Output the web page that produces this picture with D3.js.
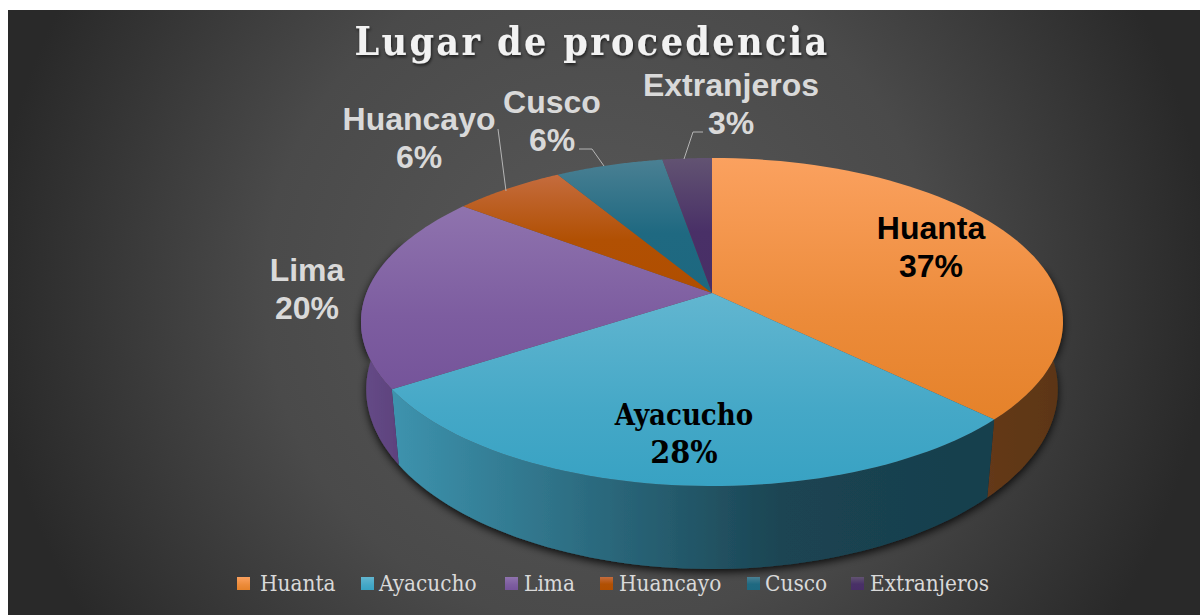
<!DOCTYPE html>
<html><head><meta charset="utf-8">
<style>html,body{margin:0;padding:0;background:#fff}svg{display:block}</style>
<script src="https://cdn.jsdelivr.net/npm/d3@7/dist/d3.min.js"></script>
</head><body><svg id="c" width="1202" height="615"></svg>
<script>
const title = "Lugar de procedencia";
const categories = ["Huanta","Ayacucho","Lima","Huancayo","Cusco","Extranjeros"];
const values = [37.3,28.49,19.52,6.1,5.89,2.7];
const topLight = ["#fba15f","#62b6d0","#8f73ae","#c56c3e","#4a8093","#625372"];
const topDark  = ["#e5822a","#38a2c3","#75549a","#b04e00","#1d6880","#482e66"];
const wallLight = ["#64391a","#3d93ae","#664a88","#8a3f00","#1d5a6e","#3c2656"];
const wallMid   = ["#5f3714","#1b4452","#5f447f","#823a00","#195062","#372350"];
const wallDark  = ["#5b3512","#173f4d","#5a3f7c","#7a3500","#174a5a","#33204a"];
const labelInk = ["#000","#000","#d9d9d9","#d9d9d9","#d9d9d9","#d9d9d9"];
const labelSerif = [false,true,false,false,false,false];
const labelPos = [[931,229],[684,415],[307,271],[419,120],[552,103],[731,86]];
const legendX = [237,361,505,600,747,851];
const legendTextX = [260,379,524,619,765,870];
const svg=d3.select("#c");
const defs=svg.append("defs");
const bg=defs.append("radialGradient").attr("id","bg").attr("gradientUnits","userSpaceOnUse")
  .attr("cx",600).attr("cy",290).attr("r",610);
bg.append("stop").attr("offset",0).attr("stop-color","#585858");
bg.append("stop").attr("offset",.55).attr("stop-color","#4a4a4a");
bg.append("stop").attr("offset",1).attr("stop-color","#292929");
const sh=defs.append("filter").attr("id","sh").attr("x","-10%").attr("y","-10%").attr("width","120%").attr("height","130%");
sh.append("feDropShadow").attr("dx",0).attr("dy",3).attr("stdDeviation",4.5).attr("flood-color","#000").attr("flood-opacity",.85);
const ts=defs.append("filter").attr("id","ts").attr("x","-5%").attr("y","-20%").attr("width","110%").attr("height","140%");
ts.append("feDropShadow").attr("dx",1).attr("dy",2).attr("stdDeviation",1.5).attr("flood-color","#000").attr("flood-opacity",.6);
categories.forEach((c,i)=>{
  const g=defs.append("linearGradient").attr("id","t"+i).attr("x1",0).attr("y1",0).attr("x2",0).attr("y2",1);
  g.append("stop").attr("offset",0).attr("stop-color",topLight[i]);
  g.append("stop").attr("offset",i>=3?.55:.6).attr("stop-color",d3.interpolateRgb(topLight[i],topDark[i])(i>=3?.95:.7));
  g.append("stop").attr("offset",1).attr("stop-color",topDark[i]);
  const w=defs.append("linearGradient").attr("id","w"+i).attr("x1",0).attr("y1",0).attr("x2",1).attr("y2",0);
  w.append("stop").attr("offset",0).attr("stop-color",wallLight[i]);
  w.append("stop").attr("offset",.65).attr("stop-color",wallMid[i]);
  w.append("stop").attr("offset",1).attr("stop-color",wallDark[i]);
});
svg.append("rect").attr("x",8).attr("y",10).attr("width",1192).attr("height",605).attr("fill","url(#bg)");

// perspective projection of the pie disc
const cx=712, ay=293, A=345.5, B=158.9, k=0.1768, D=68.3;
const rimTop=a=>{const u=Math.sin(a),v=-Math.cos(a),d=1-k*v;return [cx+A*u/d, ay+B*v/d];};
const rimBot=a=>{const p=rimTop(a),v=-Math.cos(a);return [cx+(p[0]-cx)*(0.988-0.018*v), p[1]+D/(1-k*v)];};
const arcs=d3.pie().sort(null)(values);
const steps=(a0,a1)=>d3.range(0,61).map(i=>a0+(a1-a0)*i/60);
const line=d3.line();
const frontA=80*Math.PI/180, frontB=290*Math.PI/180;
const walls=svg.append("g").attr("filter","url(#sh)");
arcs.forEach((d,i)=>{
  const a0=Math.max(d.startAngle,frontA), a1=Math.min(d.endAngle,frontB);
  if(a1<=a0) return;
  const s=steps(a0,a1);
  walls.append("path").attr("d",line(s.map(rimTop).concat(s.slice().reverse().map(rimBot)))+"Z")
    .attr("fill",`url(#w${i})`);
});
const tops=svg.append("g");
arcs.forEach((d,i)=>{const s=steps(d.startAngle,d.endAngle);
  tops.append("path").attr("d",line([[cx,ay]].concat(s.map(rimTop)))+"Z").attr("fill",`url(#t${i})`);
});
// leader lines
const leaders=[[[506,191],[498,129]],[[604,166],[592,149],[579,149]],[[684,159],[693,132],[703,132]]];
svg.append("g").selectAll("path").data(leaders).join("path").attr("d",d=>line(d)).attr("fill","none").attr("stroke","#b5b5b5").attr("stroke-width",1);
// labels
const fmt=d3.format(".0f");
const sans="'Liberation Sans',Arial,sans-serif", serif="'DejaVu Serif Condensed','DejaVu Serif',serif";
const lab=svg.append("g").attr("text-anchor","middle").attr("font-weight","bold");
categories.forEach((c,i)=>{
  const [x,y]=labelPos[i];
  const t=lab.append("text").attr("fill",labelInk[i]).attr("font-size",labelSerif[i]?"29px":"32px")
    .attr("font-family",labelSerif[i]?serif:sans);
  t.append("tspan").attr("x",x).attr("y",y+10).text(c);
  t.append("tspan").attr("x",x).attr("y",y+48).attr("font-size",labelSerif[i]?"32px":"32px").text(fmt(values[i])+"%");
});
svg.append("text").attr("x",592).attr("y",55).attr("text-anchor","middle").attr("fill","#f2f2f2")
  .attr("font-family",serif).attr("font-weight","bold").attr("font-size","39px")
  .attr("letter-spacing","2.4px").attr("filter","url(#ts)").text(title);
const lg=svg.append("g");
categories.forEach((c,i)=>{
  lg.append("rect").attr("x",legendX[i]).attr("y",577).attr("width",13).attr("height",13).attr("fill",`url(#t${i})`);
  lg.append("text").attr("x",legendTextX[i]).attr("y",591).attr("fill","#d9d9d9")
    .attr("font-family",serif).attr("font-size","22.4px").text(c);
});
</script></body></html>
